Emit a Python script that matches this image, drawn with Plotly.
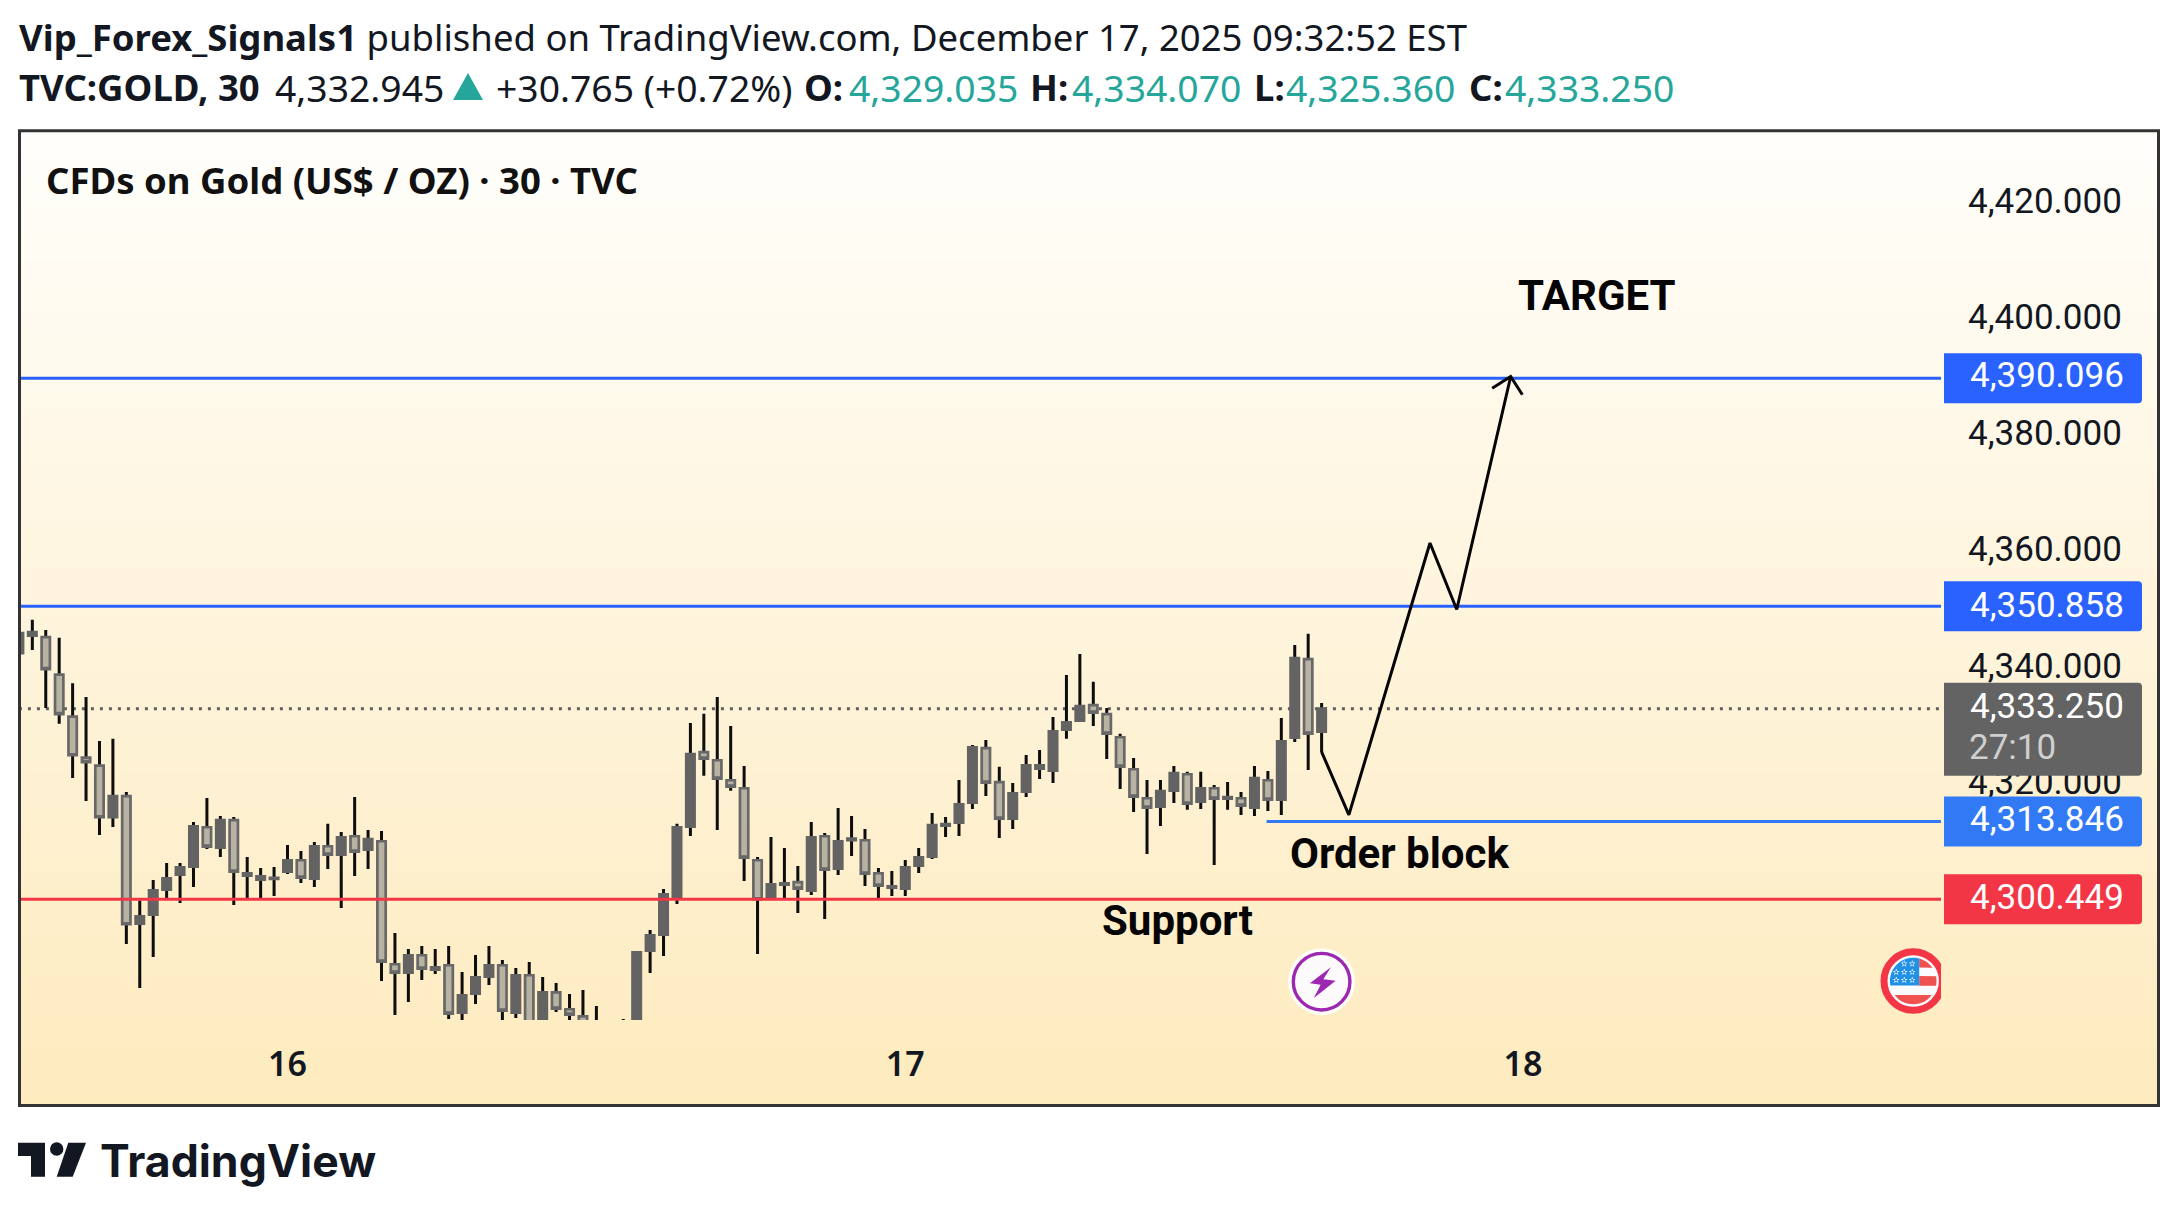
import math

import plotly.graph_objects as go

W = 2178
H = 1215

# 30 min gold candles, one entry per bar
open_prices = [
  4342.79, 4345.83, 4345.54, 4339.12, 4331.89, 4324.83, 4323.46, 4314.56, 4318.18, 4296.26,
  4297.81, 4302.11, 4304.70, 4306.07, 4312.84, 4309.34, 4314.05, 4304.52, 4303.83, 4303.95,
  4305.21, 4307.16, 4304.01, 4309.57, 4308.14, 4311.29, 4309.00, 4310.43, 4289.26, 4287.83,
  4290.81, 4288.34, 4289.09, 4280.94, 4284.21, 4287.14, 4289.09, 4280.94, 4287.37, 4277.96,
  4284.44, 4281.52, 4280.31, 4278.80, 4276.00, 4276.00, 4276.00, 4291.62, 4294.37, 4300.56,
  4312.96, 4325.75, 4324.37, 4320.93, 4319.55, 4307.16, 4300.56, 4302.97, 4303.38, 4301.94,
  4311.29, 4305.73, 4310.60, 4310.60, 4304.92, 4302.46, 4302.29, 4306.24, 4307.79, 4313.13,
  4313.65, 4317.09, 4326.44, 4320.59, 4314.33, 4318.98, 4322.94, 4322.59, 4329.65, 4331.20,
  4333.84, 4332.29, 4328.33, 4322.82, 4317.83, 4316.40, 4319.15, 4321.96, 4317.26, 4319.55,
  4317.78, 4317.83, 4316.23, 4320.93, 4317.60, 4328.27, 4341.76, 4329.31,
]
high_prices = [
  4347.50, 4348.53, 4346.80, 4345.43, 4337.63, 4335.27, 4327.70, 4328.05, 4318.92, 4300.22,
  4303.78, 4306.70, 4306.70, 4313.76, 4317.89, 4314.79, 4314.62, 4307.74, 4305.84, 4306.01,
  4309.80, 4308.77, 4310.32, 4313.42, 4312.04, 4318.06, 4312.38, 4312.21, 4294.66, 4291.90,
  4292.42, 4291.90, 4292.42, 4287.94, 4290.87, 4292.42, 4290.01, 4288.63, 4289.66, 4287.08,
  4286.05, 4284.16, 4284.85, 4282.09, 4279.00, 4279.85, 4291.56, 4295.17, 4302.23, 4313.42,
  4330.80, 4332.35, 4335.27, 4330.28, 4323.40, 4307.74, 4311.18, 4309.28, 4306.19, 4313.76,
  4311.87, 4316.17, 4314.79, 4312.55, 4305.84, 4305.33, 4307.22, 4309.28, 4315.31, 4314.62,
  4320.99, 4327.01, 4327.87, 4323.23, 4320.47, 4325.29, 4326.15, 4331.83, 4339.06, 4342.67,
  4337.86, 4333.38, 4328.91, 4324.77, 4320.99, 4320.99, 4323.40, 4322.37, 4322.37, 4320.13,
  4320.64, 4318.92, 4323.40, 4322.54, 4331.66, 4344.22, 4346.12, 4334.24,
]
low_prices = [
  4341.00, 4343.36, 4333.38, 4330.63, 4321.33, 4317.37, 4311.52, 4312.90, 4292.76, 4285.19,
  4290.52, 4300.62, 4299.82, 4302.57, 4309.11, 4307.74, 4299.47, 4300.51, 4300.51, 4301.02,
  4304.81, 4303.26, 4302.57, 4305.67, 4298.96, 4304.47, 4305.67, 4286.39, 4280.54, 4282.78,
  4286.57, 4287.60, 4279.85, 4279.11, 4282.44, 4285.71, 4279.11, 4280.03, 4277.50, 4276.50,
  4281.06, 4278.50, 4277.50, 4275.00, 4274.50, 4275.00, 4275.00, 4287.77, 4290.70, 4299.65,
  4311.35, 4321.68, 4312.38, 4319.10, 4303.61, 4291.04, 4300.34, 4300.45, 4298.10, 4301.20,
  4297.07, 4304.64, 4307.91, 4302.74, 4300.68, 4301.02, 4301.02, 4304.98, 4307.39, 4311.18,
  4311.35, 4316.00, 4318.23, 4311.01, 4312.55, 4318.06, 4321.16, 4320.47, 4328.05, 4330.97,
  4330.28, 4324.60, 4319.44, 4315.48, 4308.25, 4313.07, 4317.03, 4315.83, 4316.00, 4306.36,
  4315.83, 4314.96, 4314.79, 4315.65, 4314.96, 4327.53, 4322.71, 4325.75,
]
close_prices = [
  4346.23, 4346.40, 4340.04, 4332.29, 4325.23, 4324.03, 4314.56, 4318.18, 4296.15, 4297.52,
  4302.00, 4304.06, 4305.96, 4313.01, 4309.51, 4314.05, 4305.21, 4304.92, 4304.41, 4304.12,
  4307.16, 4304.18, 4309.57, 4308.14, 4311.12, 4308.65, 4310.78, 4289.72, 4287.83, 4290.81,
  4288.52, 4288.75, 4280.77, 4283.93, 4287.03, 4289.09, 4281.29, 4287.37, 4278.53, 4284.44,
  4281.63, 4280.60, 4279.05, 4277.00, 4278.00, 4278.00, 4291.33, 4294.25, 4301.31, 4312.84,
  4325.41, 4324.66, 4321.22, 4319.84, 4307.62, 4300.45, 4303.03, 4303.20, 4302.29, 4311.12,
  4305.56, 4310.43, 4310.89, 4304.87, 4302.80, 4302.69, 4305.96, 4307.68, 4313.19, 4313.36,
  4316.80, 4326.61, 4320.53, 4314.33, 4318.69, 4323.51, 4323.51, 4329.36, 4330.91, 4333.67,
  4332.58, 4328.96, 4323.28, 4318.12, 4316.23, 4319.04, 4322.14, 4316.92, 4319.55, 4317.78,
  4318.01, 4316.57, 4321.28, 4317.60, 4327.64, 4341.93, 4328.96, 4333.25,
]
bar_index = list(range(len(open_prices)))

# hand drawn projection, bar index and price
path_bars = [97.0, 99.03, 105.07, 107.06, 111.08, 109.7, 111.08, 111.95]
path_prices = [4325.8, 4314.96, 4361.75, 4350.31, 4390.41, 4388.4, 4390.41, 4387.26]

# horizontal levels
target_level = 4390.096
upper_level = 4350.858
block_level = 4313.846
support_level = 4300.449
last_price = 4333.25
level_start = 0
block_start = 92.9
level_end = 145

price_ticks = [4320, 4340, 4360, 4380, 4400, 4420]
price_labels = ['4,320.000', '4,340.000', '4,360.000', '4,380.000', '4,400.000', '4,420.000']
date_ticks = [20, 66, 112]
date_labels = ['16', '17', '18']

bg_stops = ['#FEEBBE', '#FFFEFB']
blue = '#2962FF'
light_blue = '#3179F5'
red = '#F23645'
teal = '#26A69A'
ink = '#131722'


def px(x):
  return x / W


def py(y):
  return 1 - y / H


def page_path(points):
  # closed polygon from page pixels to paper coordinates
  parts = ['{},{}'.format(px(x), py(y)) for x, y in points]
  return 'M' + ' L'.join(parts) + ' Z'


def text_note(x, y, text, size, family='Noto Sans', color=ink, anchor='left', weight=None):
  font = dict(family=family, size=size, color=color)
  if weight:
    font['weight'] = weight
  return dict(xref='paper', yref='paper', x=px(x), y=py(y), text=text, showarrow=False,
              xanchor=anchor, yanchor='middle', font=font, borderpad=0)


def price_tag(price, color, up, down):
  path = 'M0,{t} H194 Q198,{t} 198,{t2} V{b2} Q198,{b} 194,{b} H0 Z'.format(
    t=up, t2=up - 4, b=-down, b2=-down + 4)
  return dict(type='path', layer='above', xref='paper', yref='y2', xsizemode='pixel', ysizemode='pixel',
              xanchor=px(1944), yanchor=price, path=path, fillcolor=color, line=dict(width=0))


def pixel_circle(x, price, radius, fill, line_color=None, line_width=0):
  return dict(type='circle', layer='above', xref='x2', yref='y2', xsizemode='pixel', ysizemode='pixel',
              xanchor=x, yanchor=price, x0=-radius, x1=radius, y0=-radius, y1=radius,
              fillcolor=fill, line=dict(width=line_width, color=line_color))


def pixel_path(x, price, path, fill):
  return dict(type='path', layer='above', xref='x2', yref='y2', xsizemode='pixel', ysizemode='pixel',
              xanchor=x, yanchor=price, path=path, fillcolor=fill, line=dict(width=0))


def arc_points(start_deg, end_deg, radius=23.3, steps=14):
  # points along the flag disk, pixel offsets with y up
  pts = []
  for k in range(steps + 1):
    a = math.radians(start_deg + (end_deg - start_deg) * k / steps)
    pts.append('{:.2f},{:.2f}'.format(radius * math.cos(a), radius * math.sin(a)))
  return ' L'.join(pts)


fig = go.Figure()

# pane background, sits on the first subplot so it stays under the candles
fig.add_trace(go.Heatmap(x=[0, 1], y=[0, 1], z=[[0, 0], [1, 1]], zsmooth='best', showscale=False,
                         colorscale=[[0, bg_stops[0]], [1, bg_stops[1]]], hoverinfo='skip'))

body_mid = [(o + c) / 2 for o, c in zip(open_prices, close_prices)]
fig.add_trace(go.Candlestick(x=bar_index, open=body_mid, close=body_mid, high=high_prices, low=low_prices,
                             xaxis='x2', yaxis='y2', whiskerwidth=0,
                             increasing=dict(line=dict(color='#0D0D0D', width=3), fillcolor='#0D0D0D'),
                             decreasing=dict(line=dict(color='#0D0D0D', width=3), fillcolor='#0D0D0D')))
fig.add_trace(go.Candlestick(x=bar_index, open=open_prices, close=close_prices,
                             high=[max(o, c) for o, c in zip(open_prices, close_prices)],
                             low=[min(o, c) for o, c in zip(open_prices, close_prices)],
                             xaxis='x2', yaxis='y2', whiskerwidth=0,
                             increasing=dict(line=dict(color='#636363', width=2.7), fillcolor='#636363'),
                             decreasing=dict(line=dict(color='#686868', width=2.7), fillcolor='#B8B2A3')))

levels = [(target_level, level_start, blue), (upper_level, level_start, blue),
          (block_level, block_start, light_blue), (support_level, level_start, red)]
for level, start, color in levels:
  fig.add_trace(go.Scatter(x=[start, level_end], y=[level, level], mode='lines', xaxis='x2', yaxis='y2',
                           line=dict(color=color, width=3)))

fig.add_trace(go.Scatter(x=path_bars, y=path_prices, mode='lines', xaxis='x2', yaxis='y2',
                         line=dict(color='#050505', width=3)))

shapes = [
  # last price dots, under the candles
  dict(type='line', layer='below', xref='x2', yref='y2', x0=level_start, x1=level_end, y0=last_price, y1=last_price,
       line=dict(color='#5F5F5F', width=3, dash='3px,6px')),
  dict(type='rect', layer='above', xref='paper', yref='paper', x0=px(19.5), x1=px(2158.5), y0=py(130.7), y1=py(1105.5),
       line=dict(color='#333333', width=3)),
  price_tag(target_level, blue, 25, 25),
  price_tag(upper_level, blue, 25, 25),
  price_tag(block_level, light_blue, 25, 25),
  price_tag(support_level, red, 25, 25),
  price_tag(last_price, '#636363', 26, 67),
]

# alert icon on the last bar
icon_price = 4286.27
shapes += [
  pixel_circle(97, icon_price, 33.5, '#FFFDF8'),
  pixel_circle(97, icon_price, 28.3, '#FDFAFB', '#9C27B0', 3.4),
  pixel_path(97, icon_price, 'M9.3,14.3 L-11.7,-1.7 L-1,-3 L-7.7,-16.3 L14,1 L1.7,2.3 Z', '#9C27B0'),
]

# US flag event marker, cut by the pane edge
flag_bar = 141.05
flag_price = 4286.38
shapes += [
  pixel_circle(flag_bar, flag_price, 29.2, '#FBFAFD', red, 7),
  pixel_path(flag_bar, flag_price, 'M6,13.5 L' + arc_points(35, 75) + ' Z', '#F0524F'),
  pixel_path(flag_bar, flag_price, 'M6,5 L' + arc_points(12, -12) + ' L6,-4.8 Z', '#F0524F'),
  pixel_path(flag_bar, flag_price, 'M' + arc_points(-37, -143) + ' Z', '#F0524F'),
  pixel_path(flag_bar, flag_price, 'M6,-4.5 L' + arc_points(191, 75) + ' Z', '#2191E8'),
]
star_spots = [(-9, 17.3), (-1, 17.3), (-17, 9), (-9, 9), (-1, 9), (-17, 1), (-9, 1), (-1, 1)]
for sx, sy in star_spots:
  star = 'M{},{} L{},{} L{},{} L{},{} L{},{} Z'.format(sx, sy + 3.6, sx + 2.2, sy - 3, sx - 3.4, sy + 1.1,
                                                       sx + 3.4, sy + 1.1, sx - 2.2, sy - 3)
  shapes.append(pixel_path(flag_bar, flag_price, star, '#FFFFFF'))

# header triangle and logo mark
shapes += [
  dict(type='path', layer='above', xref='paper', yref='paper', fillcolor=teal, line=dict(width=0),
       path=page_path([(468, 73), (483, 100), (453, 100)])),
  dict(type='path', layer='above', xref='paper', yref='paper', fillcolor=ink, line=dict(width=0),
       path=page_path([(18, 1142.7), (45, 1142.7), (45, 1176.7), (31, 1176.7), (31, 1156), (18, 1156)])),
  dict(type='circle', layer='above', xref='paper', yref='paper', fillcolor=ink, line=dict(width=0),
       x0=px(50), x1=px(63.4), y0=py(1142.3), y1=py(1155.7)),
  dict(type='path', layer='above', xref='paper', yref='paper', fillcolor=ink, line=dict(width=0),
       path=page_path([(68.3, 1142.7), (86, 1142.7), (72.7, 1176.7), (56.7, 1176.7)])),
]

header_size = 36.5
value_size = 37.3
notes = [
  text_note(18, 37, '<b>Vip_Forex_Signals1</b> published on TradingView.com, December 17, 2025 09:32:52 EST', header_size),
  text_note(18, 87, '<b>TVC:GOLD, 30</b>', header_size),
  text_note(274, 87, '4,332.945', value_size),
  text_note(495, 87, '+30.765 (+0.72%)', value_size),
  text_note(803, 87, '<b>O:</b>', header_size),
  text_note(848, 87, '4,329.035', value_size, color=teal),
  text_note(1029, 87, '<b>H:</b>', header_size),
  text_note(1071, 87, '4,334.070', value_size, color=teal),
  text_note(1253, 87, '<b>L:</b>', header_size),
  text_note(1285, 87, '4,325.360', value_size, color=teal),
  text_note(1468, 87, '<b>C:</b>', header_size),
  text_note(1504, 87, '4,333.250', value_size, color=teal),
  text_note(45, 180, '<b>CFDs on Gold (US$ / OZ) · 30 · TVC</b>', 36.5, color='#111111'),
  text_note(1517, 295, '<b>TARGET</b>', 42, family='Roboto', color='#050505'),
  text_note(1289, 853, '<b>Order block</b>', 42, family='Roboto', color='#050505'),
  text_note(1101, 921, '<b>Support</b>', 42, family='Roboto', color='#050505'),
  text_note(2125, 375, '4,390.096', 35, family='Roboto', color='#FFFFFF', anchor='right'),
  text_note(2125, 605, '4,350.858', 35, family='Roboto', color='#FFFFFF', anchor='right'),
  text_note(2125, 819.5, '4,313.846', 35, family='Roboto', color='#FFFFFF', anchor='right'),
  text_note(2125, 897.5, '4,300.449', 35, family='Roboto', color='#FFFFFF', anchor='right'),
  text_note(2125, 706.5, '4,333.250', 35, family='Roboto', color='#FFFFFF', anchor='right'),
  text_note(1968, 747, '27:10', 35, family='Roboto', color='#CFCFCF'),
  text_note(99, 1161, '<b>TradingView</b>', 44.6, family='Inter'),
]

fig.update_layout(
  width=W,
  height=H,
  margin=dict(l=0, r=0, t=0, b=0),
  paper_bgcolor='#FFFFFF',
  plot_bgcolor='rgba(0,0,0,0)',
  showlegend=False,
  boxgap=0.38,
  boxgroupgap=0,
  shapes=shapes,
  annotations=notes,
  xaxis=dict(domain=[px(21), px(2157)], range=[0, 1], visible=False),
  yaxis=dict(domain=[py(1104), py(132)], range=[0, 1], visible=False),
  xaxis2=dict(domain=[px(21), px(1941)], range=[0.156, 143.12], anchor='y2', showgrid=False, zeroline=False,
              rangeslider=dict(visible=False), tickmode='array', tickvals=date_ticks, ticktext=date_labels,
              ticks='', ticklabelstandoff=21, tickfont=dict(family='Noto Sans', size=34, color=ink, weight=600)),
  yaxis2=dict(domain=[py(1020), py(132)], range=[4279.67, 4432.48], anchor='x2', side='right', showgrid=False,
              zeroline=False, tickmode='array', tickvals=price_ticks, ticktext=price_labels, ticks='',
              ticklabelstandoff=26, ticklabelshift=-4, tickfont=dict(family='Roboto', size=35, color=ink)),
)

fig.write_html("out.html", config=dict(displayModeBar=False),
               post_script="document.body.style.margin='0';document.body.style.overflow='hidden';")
